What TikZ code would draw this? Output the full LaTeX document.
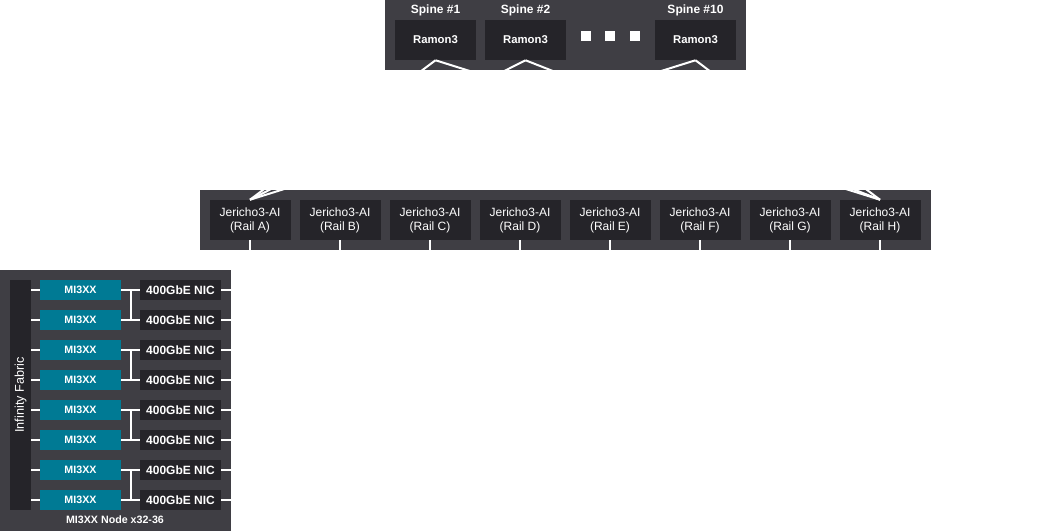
\documentclass[tikz,border=0pt]{standalone}
\usepackage{fontspec}
\setmainfont{Liberation Sans}
\usetikzlibrary{positioning}
\definecolor{panel}{HTML}{3F3E44}
\definecolor{chip}{HTML}{252429}
\definecolor{gpu}{HTML}{007A94}
\tikzset{
  box/.style={fill=chip,text=white,minimum width=60.75pt,minimum height=30pt,inner sep=0pt,align=center,font=\fontsize{9}{10.5}\selectfont},
  gpubox/.style={box,fill=gpu,minimum height=15pt,font=\fontsize{8}{9}\selectfont\bfseries},
  nicbox/.style={box,minimum height=15pt,font=\fontsize{9}{9}\selectfont\bfseries},
  wire/.style={white,line width=1.5pt},
  lbl/.style={text=white,font=\fontsize{9}{10}\selectfont}
}
\begin{document}
\begin{tikzpicture}[x=0.75pt,y=-0.75pt]
\useasboundingbox (0,0) rectangle (1041,531);
% panels
\fill[panel] (385,0) rectangle (746,70);
\fill[panel] (200,190) rectangle (931,250);
\fill[panel] (0,270) rectangle (231,531);
% spines
\foreach \s/\x/\t in {s1/435.5/1, s2/525.5/2, s10/695.5/10}{
  \node[box,font=\fontsize{8.5}{10}\selectfont\bfseries] (\s) at (\x,40) {Ramon3};
  \node[lbl,font=\fontsize{9}{10}\selectfont\bfseries] at (\x,10) {Spine \#\t};
}
\foreach \x in {586,610,635}
  \fill[white] (\x-5,31) rectangle (\x+5,41);
% rails
\foreach \r [count=\i from 0] in {A,B,C,D,E,F,G,H}{
  \node[box] (rail\r) at (250+90*\i,220) {Jericho3-AI\\(Rail \r)};
  \coordinate (dn\r) at (250+90*\i,250);
  \draw[wire] (rail\r.south) -- (dn\r);
}
% uplinks
\foreach \s in {s1,s2,s10}{
  \draw[wire] (\s.south) -- (railA.north);
  \draw[wire] (\s.south) -- (railH.north);
}
% node
\node[fill=chip,minimum width=15.75pt,minimum height=172.5pt,inner sep=0pt] (fab) at (20.5,395) {};
\node[text=white,rotate=90,font=\fontsize{9.5}{10}\selectfont] at (fab) {Infinity Fabric};
\foreach \i in {0,...,7}{
  \node[gpubox] (gpu\i) at (80.5,290+30*\i) {MI3XX};
  \node[nicbox] (nic\i) at (180.5,290+30*\i) {400GbE NIC};
  \coordinate (out\i) at (231,290+30*\i);
  \draw[wire] (fab.east|-gpu\i) -- (gpu\i.west);
  \draw[wire] (gpu\i.east) -- (nic\i.west);
  \draw[wire] (nic\i.east) -- (out\i);
}
\foreach \i in {0,2,4,6}{
  \pgfmathtruncatemacro\j{\i+1}
  \draw[wire] ([xshift=7pt]gpu\i.east) -- ([xshift=7pt]gpu\j.east);
}
\node[lbl,font=\fontsize{8}{9}\selectfont\bfseries] at (115,520) {MI3XX Node x32-36};
\end{tikzpicture}
\end{document}
